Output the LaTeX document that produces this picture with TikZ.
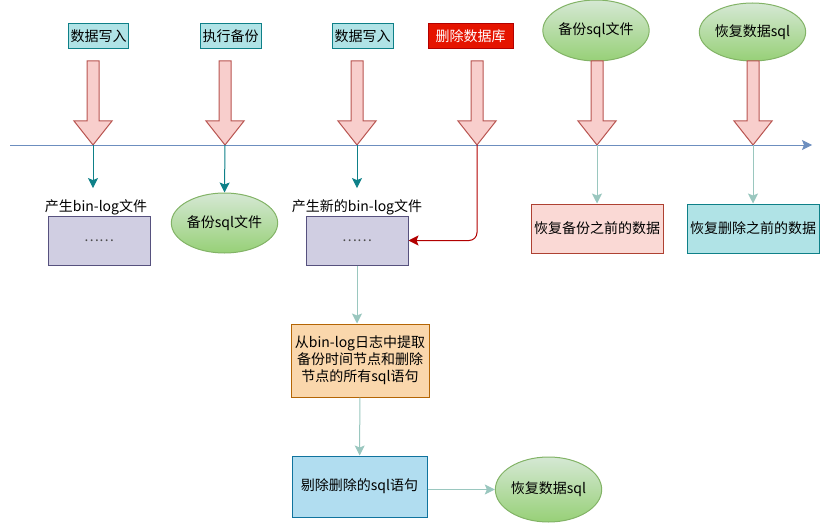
\documentclass[tikz,border=0pt]{standalone}
\usepackage{fontspec}
\setmainfont{Noto Sans CJK SC}
\usetikzlibrary{arrows.meta,positioning,shapes.geometric}

\definecolor{tealfill}{HTML}{B0E3E6}
\definecolor{tealline}{HTML}{0E8088}
\definecolor{redfill}{HTML}{E51400}
\definecolor{redline}{HTML}{B20000}
\definecolor{pinkfill}{HTML}{F8CECC}
\definecolor{pinkline}{HTML}{B85450}
\definecolor{salmonfill}{HTML}{FAD9D5}
\definecolor{salmonline}{HTML}{AE4132}
\definecolor{purplefill}{HTML}{D0CEE2}
\definecolor{purpleline}{HTML}{56517E}
\definecolor{orangefill}{HTML}{FAD7AC}
\definecolor{orangeline}{HTML}{B46504}
\definecolor{bluefill}{HTML}{B1DDF0}
\definecolor{blueline}{HTML}{10739E}
\definecolor{greentop}{HTML}{D5E8D4}
\definecolor{greenbot}{HTML}{97D077}
\definecolor{greenline}{HTML}{82B366}
\definecolor{axisblue}{HTML}{6C8EBF}
\definecolor{softline}{HTML}{9AC7BF}

\tikzset{
  box/.style={draw, line width=1pt, inner sep=1pt, align=center},
  tealbox/.style={box, draw=tealline, fill=tealfill},
  redbox/.style={box, draw=redline, fill=redfill, text=white},
  salmonbox/.style={box, draw=salmonline, fill=salmonfill},
  logbox/.style={box, draw=purpleline, fill=purplefill, minimum width=102pt, minimum height=49pt},
  greenell/.style={ellipse, draw=greenline, line width=1pt, top color=greentop, bottom color=greenbot, inner sep=0pt},
  fatarrow/.style={draw=pinkline, fill=pinkfill, line width=1pt, line join=miter},
  tip/.style={-{Stealth[length=10pt,width=10pt,inset=2pt]}, line width=1pt},
}

\begin{document}
\begin{tikzpicture}[x=1pt,y=-1pt,font=\fontsize{14}{17}\selectfont]
\useasboundingbox (0,0) rectangle (824,524);

% events above the time line
\node[tealbox, minimum width=60pt, minimum height=25pt] (write1) at (98.5,36.5) {数据写入};
\node[tealbox, minimum width=61pt, minimum height=25pt] (backup) at (230.5,36.5) {执行备份};
\node[tealbox, minimum width=61pt, minimum height=25pt] (write2) at (362.5,36.5) {数据写入};
\node[redbox, minimum width=85pt, minimum height=25pt] (dropdb) at (470.5,36.5) {删除数据库};
\node[greenell, minimum width=97pt, minimum height=61pt] (sqlfile1) at (596,30.5) {备份sql文件};
\node[greenell, minimum width=97pt, minimum height=58pt] (restore1) at (752.5,32) {恢复数据sql};

% fat arrows onto the time line
\foreach \i/\c in {1/93,2/225,3/357,4/477,5/597,6/753} {
  \draw[fatarrow] (\c-6,61) -- (\c+6,61) -- (\c+6,121) -- (\c+19,121)
    -- (\c,145) -- (\c-19,121) -- (\c-6,121) -- cycle;
  \coordinate (tip\i) at (\c,145);
}

% time line
\coordinate (start) at (10,145);
\coordinate (end) at (812,145);
\draw[tip, draw=axisblue] (start) -- (end);

% results below the time line
\node[logbox] (log1) at (99,240.5) {\textcolor{black!70}{……}};
\node[above=-3pt of log1, xshift=-3pt] (loglbl1) {产生bin-log文件};
\node[greenell, minimum width=97pt, minimum height=60pt] (sqlfile2) at (224.5,223) {备份sql文件};
\node[logbox] (log2) at (357,240.5) {\textcolor{black!70}{……}};
\node[above=-3pt of log2] (loglbl2) {产生新的bin-log文件};
\node[salmonbox, minimum width=132pt, minimum height=49pt] (before1) at (597,228.5) {恢复备份之前的数据};
\node[tealbox, minimum width=132pt, minimum height=49pt] (before2) at (753,228.5) {恢复删除之前的数据};

% recovery steps
\node[box, draw=orangeline, fill=orangefill, minimum width=138pt, minimum height=73pt] (extract) at (360,360.5)
  {从bin-log日志中提取\\备份时间节点和删除\\节点的所有sql语句};
\node[box, draw=blueline, fill=bluefill, minimum width=135pt, minimum height=61pt] (strip) at (359.5,486.5) {剔除删除的sql语句};
\node[greenell, minimum width=97pt, minimum height=65pt] (restore2) at (548.5,489.5) {恢复数据sql};

% connectors
\draw[tip, draw=tealline, shorten >=8pt] (tip1) -- (tip1 |- loglbl1.north);
\draw[tip, draw=tealline] (tip2) -- (sqlfile2.north);
\draw[tip, draw=tealline, shorten >=8pt] (tip3) -- (tip3 |- loglbl2.north);
\draw[tip, draw=redline, rounded corners=8pt] (tip4) |- (log2.east);
\draw[tip, draw=softline] (tip5) -- (before1.north);
\draw[tip, draw=softline] (tip6) -- (before2.north);
\draw[tip, draw=softline] (log2.south) -- (log2.south |- extract.north);
\draw[tip, draw=softline] (extract) -- (strip);
\draw[tip, draw=softline] ([yshift=-3pt]strip.east) -- (restore2.west);
\end{tikzpicture}
\end{document}
